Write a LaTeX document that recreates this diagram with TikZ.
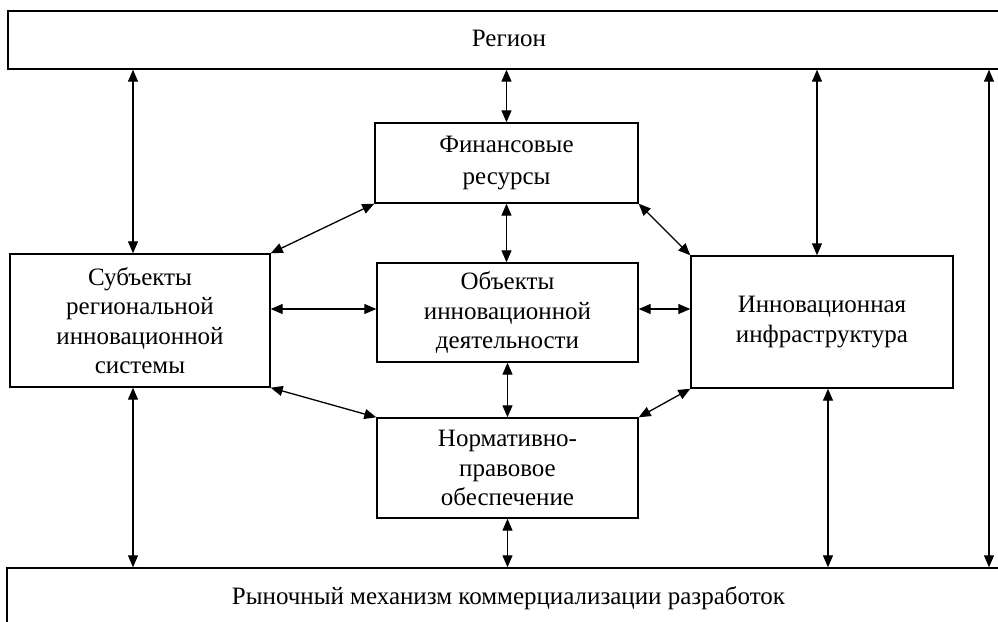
\documentclass[tikz,border=0pt]{standalone}
\usepackage{fontspec}
\setmainfont{Liberation Serif}
\usetikzlibrary{arrows.meta,calc}
\begin{document}
\begin{tikzpicture}[x=1pt,y=-1pt,
  box/.style={draw,line width=1.4pt,rectangle,align=center,inner sep=0pt,
    font=\fontsize{25}{29.5}\selectfont},
  arr/.style={line width=1.3pt,{Triangle[length=12pt,width=10pt]}-{Triangle[length=12pt,width=10pt]}}]
\useasboundingbox (0,0) rectangle (998,621);
\fill[white] (0,0) rectangle (998,621);

\node[box,minimum width=1002pt,minimum height=58pt] (region) at (509,40) {\raisebox{3pt}{Регион}};
\node[box,minimum width=260pt,minimum height=133pt] (subj) at (140,320.5)
  {Субъекты\\региональной\\инновационной\\системы};
\node[box,minimum width=263pt,minimum height=80pt,font=\fontsize{25}{32}\selectfont] (fin) at (506.5,163)
  {Финансовые\\ресурсы};
\node[box,minimum width=261pt,minimum height=99pt] (obj) at (507.5,312.5)
  {Объекты\\инновационной\\деятельности};
\node[box,minimum width=261pt,minimum height=100pt] (norm) at (507.5,468)
  {Нормативно-\\правовое\\обеспечение};
\node[box,minimum width=262pt,minimum height=132pt] (infra) at (822,322)
  {Инновационная\\инфраструктура};
\node[box,minimum width=1003pt,minimum height=62pt] (market) at (508.5,599)
  {\raisebox{7pt}{Рыночный механизм коммерциализации разработок}};

\coordinate (s1) at ([xshift=-7pt]subj.north);
\coordinate (s2) at ([xshift=-7pt]subj.south);
\coordinate (i1) at ([xshift=-5pt]infra.north);
\coordinate (i2) at ([xshift=6pt]infra.south);
\coordinate (fr) at ([xshift=480pt]region.south);
\coordinate (sm) at ([yshift=11.5pt]subj.east);
\coordinate (om) at ([yshift=3.5pt]obj.east);

\draw[arr] (s1 |- region.south) -- (s1);
\draw[arr] (fin.north |- region.south) -- (fin.north);
\draw[arr] (i1 |- region.south) -- (i1);
\draw[arr] (fr) -- (fr |- market.north);
\draw[arr] (fin.south) -- (fin.south |- obj.north);
\draw[arr] (obj.south) -- (obj.south |- norm.north);
\draw[arr] (norm.south) -- (norm.south |- market.north);
\draw[arr] (s2) -- (s2 |- market.north);
\draw[arr] (i2) -- (i2 |- market.north);
\draw[arr] (sm) -- (sm -| obj.west);
\draw[arr] (om) -- (om -| infra.west);
\draw[arr] (subj.north east) -- (fin.south west);
\draw[arr] (subj.south east) -- (norm.north west);
\draw[arr] (fin.south east) -- (infra.north west);
\draw[arr] (infra.south west) -- (norm.north east);
\end{tikzpicture}
\end{document}
